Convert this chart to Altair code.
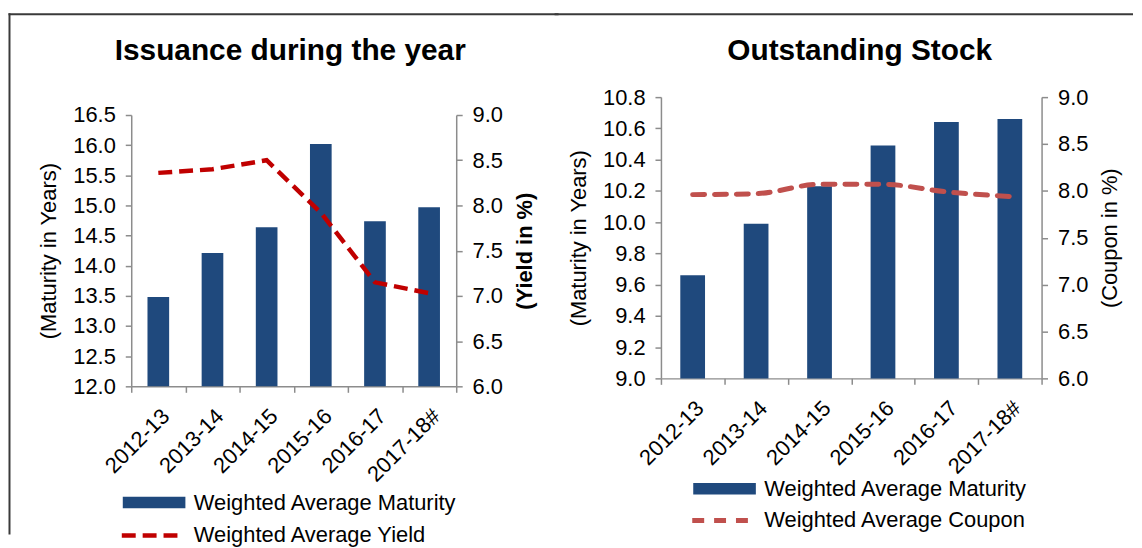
import altair as alt
import pandas as pd

# ---------------- data ----------------
YEARS = ["2012-13", "2013-14", "2014-15", "2015-16", "2016-17", "2017-18#"]

ISS_MATURITY = [13.48, 14.21, 14.64, 16.02, 14.74, 14.97]
ISS_YIELD = [8.36, 8.40, 8.50, 7.92, 7.15, 7.03]

OUT_MATURITY = [9.66, 9.99, 10.23, 10.49, 10.64, 10.66]
OUT_COUPON = [7.96, 7.97, 8.07, 8.07, 7.99, 7.94]

ISS_LEFT_TICKS = [12.0, 12.5, 13.0, 13.5, 14.0, 14.5, 15.0, 15.5, 16.0, 16.5]
ISS_RIGHT_TICKS = [6.0, 6.5, 7.0, 7.5, 8.0, 8.5, 9.0]
OUT_LEFT_TICKS = [9.0, 9.2, 9.4, 9.6, 9.8, 10.0, 10.2, 10.4, 10.6, 10.8]
OUT_RIGHT_TICKS = [6.0, 6.5, 7.0, 7.5, 8.0, 8.5, 9.0]

LBL_MAT = "Weighted Average Maturity"
LBL_YIELD = "Weighted Average Yield"
LBL_COUPON = "Weighted Average Coupon"

FONT = "Liberation Sans"
GREY = "#8c8c8c"
BAR_COLOR = "#1F497D"


def panel(title, title_x, title_y, mat, rate, lticks, rticks, ltitle, rtitle,
          rtitle_weight, line_color, dash, line_w, interp, cap, rate_label,
          w, h, top, band, leg_x, leg_y1, leg_y2, frame):
    df = pd.DataFrame({
        "year": YEARS, "mat": mat, "rate": rate,
        "base": [lticks[0]] * len(YEARS),
        "s_bar": [LBL_MAT] * len(YEARS),
        "s_line": [rate_label] * len(YEARS),
    })

    yaxis_common = dict(format=".1f", titleAngle=270, titleFontSize=22, titleFont=FONT,
                        titleColor="#000", labelFontSize=22, labelFont=FONT,
                        labelColor="#000", labelPadding=10, titlePadding=12, grid=False,
                        domainColor=GREY, tickColor=GREY, tickSize=6,
                        domainWidth=1.5, tickWidth=1.5)

    xenc = alt.X(
        "year:N", sort=YEARS,
        scale=alt.Scale(paddingInner=0, paddingOuter=0),
        axis=alt.Axis(title=None, labelAngle=-45, labelFontSize=22, labelFont=FONT,
                      labelColor="#000", tickBand="extent", domainColor=GREY,
                      tickColor=GREY, tickSize=6, domainWidth=1.5, tickWidth=1.5,
                      labelPadding=13),
    )

    bars = alt.Chart(df).mark_bar(width=alt.RelativeBandSize(band), color=BAR_COLOR).encode(
        x=xenc,
        y=alt.Y("mat:Q",
                scale=alt.Scale(domain=[lticks[0], lticks[-1]], zero=False, nice=False,
                                range=[h, top]),
                axis=alt.Axis(values=lticks, orient="left", title=ltitle,
                              titleFontWeight="normal", **yaxis_common)),
        y2="base:Q",
        fill=alt.Fill("s_bar:N", scale=alt.Scale(range=[BAR_COLOR]),
                      legend=alt.Legend(title=None, orient="none", legendX=leg_x,
                                        legendY=leg_y1,
                                        symbolType="M-3,-0.55H3V0.55H-3Z",
                                        symbolSize=441, symbolStrokeWidth=0,
                                        labelFontSize=22, labelFont=FONT,
                                        labelColor="#000", labelLimit=500,
                                        labelOffset=29, padding=0)),
    )

    line = alt.Chart(df).mark_line(strokeDash=dash, strokeWidth=line_w,
                                   interpolate=interp, strokeCap=cap).encode(
        x=xenc,
        y=alt.Y("rate:Q",
                scale=alt.Scale(domain=[rticks[0], rticks[-1]], zero=False, nice=False,
                                range=[h, top]),
                axis=alt.Axis(values=rticks, orient="right", title=rtitle,
                              titleFontWeight=rtitle_weight, titleBaseline="top",
                              **yaxis_common)),
        stroke=alt.Stroke("s_line:N", scale=alt.Scale(range=[line_color]),
                          legend=alt.Legend(title=None, orient="none", legendX=leg_x - 3,
                                            legendY=leg_y2, symbolType="M-3,0H3",
                                            symbolSize=441, symbolStrokeWidth=line_w,
                                            symbolDash=dash, symbolFillColor="transparent",
                                            labelFontSize=22, labelFont=FONT,
                                            labelColor="#000", labelLimit=500,
                                            labelOffset=28, padding=0)),
    )

    one = pd.DataFrame({"k": [0]})
    layers = []
    for (x1, x2, y1, y2) in frame:
        enc = {"x": alt.value(x1), "y": alt.value(y1)}
        if x2 is not None:
            enc["x2"] = alt.value(x2)
        if y2 is not None:
            enc["y2"] = alt.value(y2)
        layers.append(alt.Chart(one).mark_rule(color="#3a3a3a", strokeWidth=2,
                                               strokeCap="square").encode(**enc))

    ttl = alt.Chart(one).mark_text(text=title, font=FONT, fontSize=30, fontWeight="bold",
                                   color="#000", align="center", baseline="alphabetic").encode(
        x=alt.value(title_x), y=alt.value(title_y))

    return alt.layer(bars, line, ttl, *layers).resolve_scale(
        y="independent", fill="independent", stroke="independent"
    ).properties(width=w, height=h)


# both panels share the same origin row (y = 96 in the page); left plot starts 18px lower
left = panel("Issuance during the year", 160, -37, ISS_MATURITY, ISS_YIELD,
             ISS_LEFT_TICKS, ISS_RIGHT_TICKS, "(Maturity in Years)", "(Yield in %)",
             "bold", "#C00000", [14, 7], 4.5, "linear", "butt", LBL_YIELD,
             327, 291, 18, 0.4, 12, 397, 428,
             [(-122.5, None, -83.5, 439), (-122.5, 429, -83.5, None)])

right = panel("Outstanding Stock", 200, -37, OUT_MATURITY, OUT_COUPON,
              OUT_LEFT_TICKS, OUT_RIGHT_TICKS, "(Maturity in Years)", "(Coupon in %)",
              "normal", "#C0504D", [12, 10], 5, "monotone", "round", LBL_COUPON,
              383, 283, 0, 0.39, 53, 383, 413,
              [(-106, 474, -83.5, None)])

chart = alt.hconcat(left, right, spacing=-6).properties(
    padding={"left": 0, "top": 3, "right": 0, "bottom": 0},
    background="white",
).configure_view(stroke=None)

chart.save("out.html", embed_options={"renderer": "svg", "actions": False})
